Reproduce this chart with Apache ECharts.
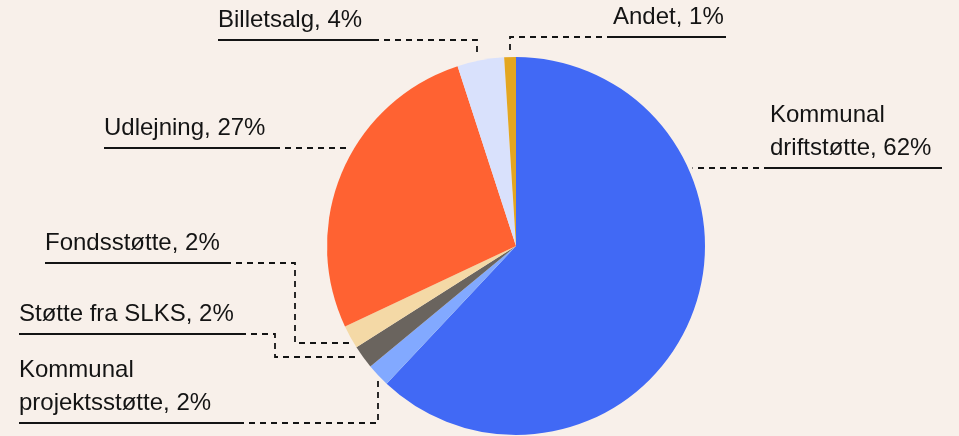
<!DOCTYPE html>
<html>
<head>
<meta charset="utf-8">
<script src="https://cdn.jsdelivr.net/npm/echarts@6/dist/echarts.min.js"></script>
<style>
html,body{margin:0;padding:0;background:#F8F0EA;}
#chart{width:959px;height:436px;}
</style>
</head>
<body>
<div id="chart"></div>
<script>
// ---- data ----
const categories = ['Kommunal driftstøtte', 'Kommunal projektsstøtte', 'Støtte fra SLKS', 'Fondsstøtte', 'Udlejning', 'Billetsalg', 'Andet'];
const labelNames = ['Kommunal\ndriftstøtte', 'Kommunal\nprojektsstøtte', 'Støtte fra SLKS', 'Fondsstøtte', 'Udlejning', 'Billetsalg', 'Andet'];
const shares = [62, 2, 2, 2, 27, 4, 1];

// ---- styling / layout ----
const colors = ['#4169F5', '#82A9FF', '#6A645E', '#F4D9A6', '#FF6232', '#D9E1FC', '#E3A621'];
const CENTER = [516, 246];
const RADIUS = 189;
const GAP = 4;
// label left x, underline y, underline width
const labelBoxes = [[770,168,172],[19,423,219],[19,334,221],[45,263,180],[104,148,170],[218,40,155],[613,37,113]];
const leaderCorners = [[], [[378,423]], [[275,334],[275,357]], [[295,263],[295,343]], [], [[477,40]], [[510,37]]];
const leaderEnd = ['h','v','h','h','h','v','v'];

function leaderPoints(i) {
  const [lx, ly, w] = labelBoxes[i];
  const start = lx > CENTER[0] ? [lx, ly] : [lx + w, ly];
  const pts = [start].concat(leaderCorners[i]);
  const p = pts[pts.length - 1];
  const R = RADIUS + GAP;
  let end;
  if (leaderEnd[i] === 'h') {
    const dx = Math.sqrt(Math.max(0, R*R - (p[1]-CENTER[1])*(p[1]-CENTER[1])));
    end = [p[0] < CENTER[0] ? CENTER[0] - dx : CENTER[0] + dx, p[1]];
  } else {
    const dy = Math.sqrt(Math.max(0, R*R - (p[0]-CENTER[0])*(p[0]-CENTER[0])));
    end = [p[0], p[1] < CENTER[1] ? CENTER[1] - dy : CENTER[1] + dy];
  }
  pts.push(end);
  if (pts.length < 3) pts.splice(1, 0, [(pts[0][0]+end[0])/2, (pts[0][1]+end[1])/2]);
  return pts;
}

const rich = { t: { fontSize: 24, lineHeight: 33, fontFamily: 'Liberation Sans, Arial, sans-serif', color: '#141414' } };
labelBoxes.forEach((b, i) => {
  rich['u' + i] = { width: b[2], height: 2, lineHeight: 6, backgroundColor: '#141414' };
});

const chart = echarts.init(document.getElementById('chart'));
chart.setOption({
  backgroundColor: '#F8F0EA',
  animation: false,
  series: [{
    type: 'pie',
    center: CENTER,
    radius: RADIUS,
    startAngle: 90,
    clockwise: true,
    avoidLabelOverlap: false,
    emphasis: { disabled: true },
    silent: true,
    data: categories.map((c, i) => ({ name: c, value: shares[i], itemStyle: { color: colors[i] } })),
    label: {
      show: true,
      position: 'outside',
      formatter: (p) => {
        const txt = labelNames[p.dataIndex] + ', ' + p.value + '%';
        return txt.split('\n').map(s => '{t|' + s + '}').join('\n') + '\n{u' + p.dataIndex + '| }';
      },
      rich: rich
    },
    labelLine: {
      show: true,
      smooth: false,
      lineStyle: { color: '#141414', width: 1.8, type: [6, 5] }
    },
    labelLayout: (params) => {
      const i = params.dataIndex;
      const b = labelBoxes[i];
      return {
        x: b[0],
        y: b[1] + 3,
        align: 'left',
        verticalAlign: 'bottom',
        labelLinePoints: leaderPoints(i)
      };
    }
  }]
});
</script>
</body>
</html>
